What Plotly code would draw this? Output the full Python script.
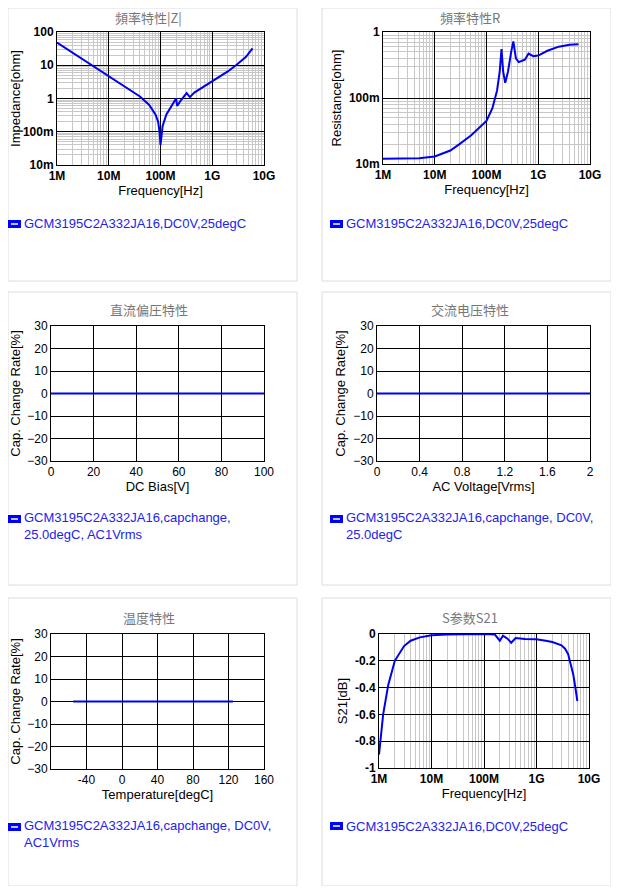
import plotly.graph_objects as go

# page has an 8px body margin, so the figure is 16px smaller than the window
W, H = 603, 878
OFF = 8

# |Z| vs frequency
z_freq = [1e6, 2e6, 5e6, 1e7, 2e7, 4e7, 6e7, 8e7, 9e7, 9.6e7, 1e8, 1.05e8, 1.1e8, 1.3e8, 1.6e8, 2e8, 2.1e8, 2.5e8, 3.2e8, 3.7e8, 4.5e8, 6e8, 1e9, 2e9, 3e9, 4.5e9, 6e9]
z_val = [48, 24, 9.6, 4.8, 2.4, 1.15, 0.65, 0.33, 0.2, 0.1, 0.04, 0.09, 0.15, 0.33, 0.55, 1.0, 0.6, 0.9, 1.45, 1.1, 1.5, 2.0, 3.2, 6.5, 10.5, 18, 32]

# R vs frequency
r_freq = [1e6, 5e6, 1e7, 2e7, 3e7, 5e7, 1e8, 1.3e8, 1.6e8, 1.8e8, 1.95e8, 2.1e8, 2.3e8, 2.6e8, 3e8, 3.3e8, 3.7e8, 4.2e8, 5e8, 5.5e8, 6.5e8, 8e8, 1e9, 1.5e9, 2.5e9, 4e9, 6e9]
r_val = [0.012, 0.0122, 0.013, 0.016, 0.02, 0.027, 0.045, 0.07, 0.13, 0.25, 0.55, 0.25, 0.17, 0.25, 0.5, 0.72, 0.4, 0.35, 0.37, 0.38, 0.47, 0.43, 0.44, 0.52, 0.6, 0.64, 0.65]

# S21 vs frequency
s_freq = [1e6, 1.2e6, 1.5e6, 2e6, 3e6, 4e6, 6e6, 1e7, 2e7, 5e7, 1e8, 1.6e8, 2e8, 2.3e8, 2.8e8, 3.3e8, 4e8, 6e8, 1e9, 1.5e9, 2e9, 3e9, 3.5e9, 4e9, 4.5e9, 5e9, 5.5e9, 6e9]
s_val = [-0.9, -0.6, -0.38, -0.2, -0.09, -0.05, -0.025, -0.01, -0.003, 0, 0, -0.003, -0.05, -0.012, -0.035, -0.065, -0.03, -0.038, -0.04, -0.05, -0.06, -0.085, -0.11, -0.15, -0.22, -0.3, -0.4, -0.5]

# capacitance change
dc_bias = [0, 100]
dc_change = [0, 0]
ac_volt = [0, 2]
ac_change = [0, 0]
temp = [-55, 0, 125]
temp_change = [0.05, 0, -0.05]

log_x_vals = [1e6, 1e7, 1e8, 1e9, 1e10]
log_x_text = ["1M", "10M", "100M", "1G", "10G"]

legend1 = "GCM3195C2A332JA16,DC0V,25degC"
legend3 = "GCM3195C2A332JA16,capchange,<br>25.0degC, AC1Vrms"
legend4 = "GCM3195C2A332JA16,capchange, DC0V,<br>25.0degC"
legend5 = "GCM3195C2A332JA16,capchange, DC0V,<br>AC1Vrms"

BLUE = "#0000ee"
FONT = "Liberation Sans, Arial, sans-serif"

def px_x(v):
    return min(max((v - OFF) / W, 0), 1)

def px_y(v):
    return min(max(1 - (v - OFF) / H, 0), 1)

fig = go.Figure()

panels = [
    dict(title="頻率特性|Z|", box=(57, 264, 32, 165), x=z_freq, y=z_val, legend=legend1, ly=224, card=(0, 297, 0, 281)),
    dict(title="頻率特性R", box=(383, 590, 32, 164), x=r_freq, y=r_val, legend=legend1, ly=224, card=(322, 618, 0, 281)),
    dict(title="直流偏圧特性", box=(51, 264, 326, 461), x=dc_bias, y=dc_change, legend=legend3, ly=526, card=(0, 297, 292, 585)),
    dict(title="交流电压特性", box=(377, 590, 326, 461), x=ac_volt, y=ac_change, legend=legend4, ly=526, card=(322, 618, 292, 585)),
    dict(title="温度特性", box=(51, 264, 634, 769), x=temp, y=temp_change, legend=legend5, ly=834, card=(0, 297, 598, 894)),
    dict(title="S参数S21", box=(379, 589, 634, 768), x=s_freq, y=s_val, legend=legend1, ly=826, card=(322, 618, 598, 894)),
]

for i, p in enumerate(panels):
    n = "" if i == 0 else str(i + 1)
    x0, x1, yt, yb = p["box"]
    fig.add_trace(go.Scatter(x=p["x"], y=p["y"], mode="lines", line=dict(color=BLUE, width=2),
                             xaxis="x" + n, yaxis="y" + n, showlegend=False, hoverinfo="skip"))
    common = dict(showline=True, mirror=True, linecolor="black", linewidth=1, gridcolor="black", gridwidth=1,
                  zeroline=False, ticks="", tickfont=dict(size=12, color="black", family=FONT),
                  title_font=dict(size=13, color="black", family=FONT), fixedrange=True, automargin=False)
    xa = dict(common, domain=[px_x(x0), px_x(x1)], anchor="y" + n, title_standoff=0)
    ya = dict(common, domain=[px_y(yb), px_y(yt)], anchor="x" + n, title_standoff=4)
    fig.add_shape(type="rect", xref="paper", yref="paper",
                  x0=px_x(p["card"][0]), x1=px_x(p["card"][1]), y0=px_y(p["card"][3]), y1=px_y(p["card"][2]),
                  line=dict(color="#dddddd", width=1), layer="below")
    cx = (p["card"][0] + p["card"][1]) / 2
    ty = max(yt - 17, 17)
    fig.add_annotation(text=p["title"], x=px_x(cx), y=px_y(ty), xref="paper", yref="paper",
                       xanchor="center", yanchor="middle", showarrow=False,
                       font=dict(size=13, color="#777777", family="Noto Sans CJK SC"))
    lx = p["card"][0] + 8
    first_y = p["ly"] if "<br>" not in p["legend"] else p["ly"] - 7
    fig.add_shape(type="rect", xref="paper", yref="paper", x0=px_x(lx), x1=px_x(lx + 13),
                  y0=px_y(first_y + 4), y1=px_y(first_y - 4), fillcolor="#0000ff", line=dict(width=0))
    fig.add_shape(type="line", xref="paper", yref="paper", x0=px_x(lx + 3), x1=px_x(lx + 10),
                  y0=px_y(first_y), y1=px_y(first_y), line=dict(color="white", width=1.5))
    fig.add_annotation(text=p["legend"], x=px_x(lx + 14), y=px_y(p["ly"]), xref="paper", yref="paper",
                       xanchor="left", yanchor="middle", align="left", showarrow=False,
                       font=dict(size=13, color="#2222ee", family=FONT))

    if i in (0, 1, 5):
        xa.update(type="log", range=[6, 10], tickvals=log_x_vals, ticktext=["<b>%s</b>" % t for t in log_x_text],
                  title_text="Frequency[Hz]",
                  minor=dict(dtick="D1", showgrid=True, gridcolor="#c8c8c8", gridwidth=1, ticks=""))
    if i == 0:
        ya.update(type="log", range=[-2, 2], tickvals=[0.01, 0.1, 1, 10, 100],
                  ticktext=["<b>10m</b>", "<b>100m</b>", "<b>1</b>", "<b>10</b>", "<b>100</b>"],
                  title_text="Impedance[ohm]",
                  minor=dict(dtick="D1", showgrid=True, gridcolor="#c8c8c8", gridwidth=1, ticks=""))
    elif i == 1:
        ya.update(type="log", range=[-2, 0], tickvals=[0.01, 0.1, 1],
                  ticktext=["<b>10m</b>", "<b>100m</b>", "<b>1</b>"], title_text="Resistance[ohm]",
                  minor=dict(dtick="D1", showgrid=True, gridcolor="#c8c8c8", gridwidth=1, ticks=""))
    elif i == 5:
        ya.update(range=[-1, 0], tickvals=[-1, -0.8, -0.6, -0.4, -0.2, 0],
                  ticktext=["<b>-1</b>", "<b>-0.8</b>", "<b>-0.6</b>", "<b>-0.4</b>", "<b>-0.2</b>", "<b>0</b>"],
                  title_text="S21[dB]")
    else:
        ya.update(range=[-30, 30], tickvals=list(range(-30, 31, 10)), title_text="Cap. Change Rate[%]")
        if i == 2:
            xa.update(range=[0, 100], tickvals=list(range(0, 101, 20)), title_text="DC Bias[V]")
        elif i == 3:
            xa.update(range=[0, 2], tickvals=[0, 0.4, 0.8, 1.2, 1.6, 2], title_text="AC Voltage[Vrms]")
        else:
            xa.update(range=[-80, 160], tickvals=list(range(-80, 161, 40)),
                      ticktext=[""] + [str(v) for v in range(-40, 161, 40)], title_text="Temperature[degC]")
    fig.update_layout({"xaxis" + n: xa, "yaxis" + n: ya})

fig.update_layout(width=W, height=H, margin=dict(l=0, r=0, t=0, b=0),
                  paper_bgcolor="white", plot_bgcolor="white", showlegend=False,
                  font=dict(family=FONT))
fig.write_html("out.html", config={"displayModeBar": False})
